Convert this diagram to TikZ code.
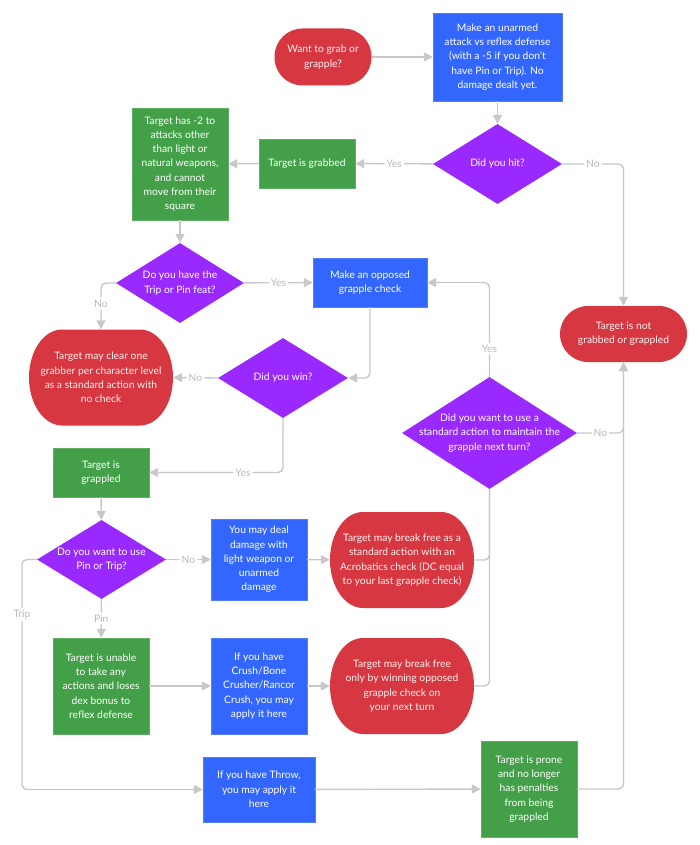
\documentclass[tikz,border=0pt]{standalone}
\usepackage{fontspec}
\setmainfont{Lato}
\usetikzlibrary{shapes.geometric,arrows.meta}
\definecolor{cred}{RGB}{215,55,64}
\definecolor{cblue}{RGB}{51,102,255}
\definecolor{cgreen}{RGB}{67,160,72}
\definecolor{cpurple}{RGB}{153,41,255}
\definecolor{cline}{RGB}{200,200,200}
\definecolor{clabel}{RGB}{185,185,185}
\tikzset{
  base/.style={inner sep=0pt, align=center, text=white, font=\fontsize{10.3}{14.3}\selectfont},
  boxg/.style={base, rectangle, fill=cgreen, draw=cgreen!85!white},
  boxb/.style={base, rectangle, fill=cblue, draw=cblue!85!white},
  term/.style={base, rectangle, fill=cred, text=white!93!cred},
  oval/.style={base, rectangle, text=white!93!cred, minimum width=144pt, minimum height=96pt,
    path picture={\fill[cred] ([xshift=33pt]path picture bounding box.north west) -- ([xshift=-33pt]path picture bounding box.north east)
      arc[start angle=90,end angle=-90,x radius=33pt,y radius=48pt]
      -- ([xshift=33pt]path picture bounding box.south west)
      arc[start angle=270,end angle=90,x radius=33pt,y radius=48pt] -- cycle;}},
  decision/.style={diamond, fill=cpurple, inner sep=0pt},
  dtext/.style={base},
  line/.style={draw=cline, line width=1.4pt, rounded corners=5pt},
  conn/.style={line, -{Triangle[length=9pt,width=9pt]}},
  lbl/.style={fill=white, text=clabel, inner sep=2pt, font=\fontsize{10.3}{12}\selectfont}
}
\begin{document}
\begin{tikzpicture}[x=1pt,y=-1pt]
\useasboundingbox (0,0) rectangle (700,845);
% nodes
\node[term, rounded corners=28pt, minimum width=97pt, minimum height=57pt] (start) at (323,57) {Want to grab or\\grapple?};
\node[boxb, minimum width=129pt, minimum height=88pt] (attack) at (497.5,57) {Make an unarmed\\attack vs reflex defense\\(with a -5 if you don't\\have Pin or Trip). No\\damage dealt yet.};
\node[decision, minimum width=129pt, minimum height=80pt, label={[dtext]center:Did you hit?}] (hit) at (497.5,164) {};
\node[boxg, minimum width=96pt, minimum height=49pt] (grabbed) at (307,163.5) {Target is grabbed};
\node[boxg, minimum width=96pt, minimum height=112pt] (minus2) at (180,164) {Target has -2 to\\attacks other\\than light or\\natural weapons,\\and cannot\\move from their\\square};
\node[decision, minimum width=128pt, minimum height=80pt, label={[dtext]center:Do you have the\\Trip or Pin feat?}] (feat) at (180,283) {};
\node[boxb, minimum width=114pt, minimum height=49pt] (opposed) at (370,282.5) {Make an opposed\\grapple check};
\node[oval] (clear) at (101,377.5) {Target may clear one\\grabber per character level\\as a standard action with\\no check};
\node[decision, minimum width=130pt, minimum height=80pt, label={[dtext]center:Did you win?}] (win) at (283,378) {};
\node[term, rounded corners=28pt, minimum width=127pt, minimum height=56pt] (notg) at (623.5,334) {Target is not\\grabbed or grappled};
\node[decision, minimum width=175pt, minimum height=112pt, label={[dtext]center:Did you want to use a\\standard action to maintain the\\grapple next turn?}] (maintain) at (489.5,433) {};
\node[boxg, minimum width=96pt, minimum height=49pt] (grappled) at (101,472.5) {Target is\\grappled};
\node[decision, minimum width=129pt, minimum height=79pt, label={[dtext]center:Do you want to use\\Pin or Trip?}] (pintrip) at (101.5,559.5) {};
\node[boxb, minimum width=96pt, minimum height=81pt] (dmg) at (259,559.5) {You may deal\\damage with\\light weapon or\\unarmed\\damage};
\node[oval] (free1) at (402,560) {Target may break free as a\\standard action with an\\Acrobatics check (DC equal\\to your last grapple check)};
\node[boxg, minimum width=96pt, minimum height=96pt] (unable) at (101,686) {Target is unable\\to take any\\actions and loses\\dex bonus to\\reflex defense};
\node[boxb, minimum width=96pt, minimum height=96pt] (crush) at (259,686) {If you have\\Crush/Bone\\Crusher/Rancor\\Crush, you may\\apply it here};
\node[oval] (free2) at (402,686) {Target may break free\\only by winning opposed\\grapple check on\\your next turn};
\node[boxb, minimum width=112pt, minimum height=65pt] (throw) at (259,789.5) {If you have Throw,\\you may apply it\\here};
\node[boxg, minimum width=96pt, minimum height=96pt] (prone) at (529,789) {Target is prone\\and no longer\\has penalties\\from being\\grappled};
\coordinate (tripc) at (22,789.5);
% connectors
\draw[conn] (start) -- (attack);
\draw[conn] (attack) -- (hit);
\draw[conn] (hit) -- node[lbl]{Yes} (grabbed);
\draw[conn] (grabbed) -- (minus2);
\draw[conn] (minus2) -- (feat);
\draw[conn] (feat) -- node[lbl]{Yes} (opposed);
\draw[conn] (feat.west) -| node[lbl,pos=0.72]{No} (clear.north);
\draw[conn] (opposed.south) |- (win.east);
\draw[conn] (win.west) -- node[lbl]{No} (clear.east);
\draw[conn] (hit.east) -| node[lbl,pos=0.25]{No} (notg.north);
\draw[conn] (win.south) |- node[lbl,pos=0.65]{Yes} (grappled.east);
\draw[conn] (grappled) -- (pintrip);
\draw[conn] (pintrip) -- node[lbl]{No} (dmg);
\draw[conn] (dmg) -- (free1);
\draw[conn] (pintrip) -- node[lbl]{Pin} (unable);
\draw[conn] (pintrip.west) -| node[lbl,pos=0.62]{Trip} (tripc) -- (throw.west);
\draw[conn] (unable) -- (crush);
\draw[conn] (crush) -- (free2);
\draw[conn] (throw) -- (prone);
\draw[line] (free1.east) -| (maintain.south);
\draw[line] (free2.east) -| (maintain.south);
\draw[conn] (maintain.north) |- node[lbl,pos=0.15]{Yes} (opposed.east);
\draw[conn] (prone.east) -| (notg.south);
\draw[conn] (maintain.east) -| node[lbl,pos=0.25]{No} (notg.south);
\end{tikzpicture}
\end{document}
